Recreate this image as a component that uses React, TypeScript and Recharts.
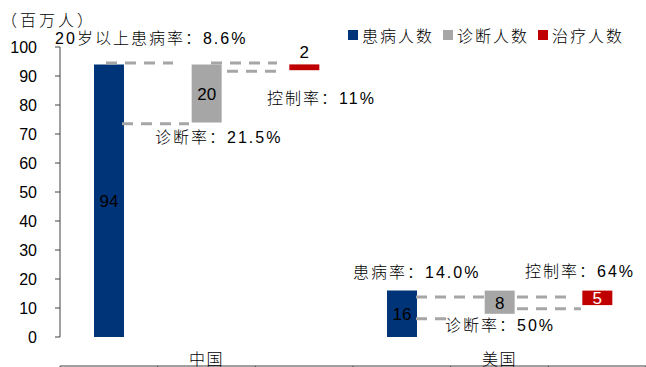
import React from 'react';
import { BarChart, Bar, XAxis, YAxis, ReferenceLine, ReferenceDot, LabelList } from 'recharts';

// ---- data ----
const categories = ['中国', '美国'];
const patients = [94, 16];
const diagnosedBase = [74, 8];
const diagnosed = [20, 8];
const treatedBase = [92, 11];
const treated = [2, 5];
const yTicks = [0, 10, 20, 30, 40, 50, 60, 70, 80, 90, 100];
const seriesNames = ['患病人数', '诊断人数', '治疗人数'];
const seriesColors = ['#003478', '#A6A6A6', '#C00000'];
const unitLabel = '（百万人）';

// annotations in data space of the frame axis (x: slot units 0..6, y: value)
const annotationTexts = ['20岁以上患病率：8.6%', '控制率：11%', '诊断率：21.5%', '患病率：14.0%', '控制率：64%', '诊断率：50%'];
const annotationX = [-0.05, 2.12, 0.973, 3.0, 4.761, 3.942];
const annotationY = [102.9, 82.2, 68.7, 22.2, 22.5, 3.9];

// dashed connectors
const connX1 = [0.471, 1.546, 1.71, 0.635, 3.645, 4.679, 4.679, 3.645];
const connX2 = [1.157, 2.222, 2.212, 1.321, 4.341, 5.263, 5.334, 3.962];
const connY = [94.5, 94.5, 91.6, 73.5, 13.8, 13.8, 9.75, 6.3];

// ---- table ----
const table: any[] = [];
categories.forEach((c, i) => {
  table.push({ key: c + '-a', label: '', base: 0, patients: patients[i] });
  table.push({ key: c + '-b', label: c, base: diagnosedBase[i], diagnosed: diagnosed[i] });
  table.push({ key: c + '-c', label: '', base: treatedBase[i], treated: treated[i] });
});
table.forEach((row, i) => { row.pos = i + 0.5; });
const slotCount = table.length;
const frameTicks = Array.from({ length: slotCount + 1 }, (_, i) => i);

const FONT = '"Liberation Sans", Arial, "Noto Sans CJK SC", sans-serif';
const AXIS = '#404040';

const makeLabel = (white: boolean) => (props: any) => {
  const { x, y, width, height, value } = props;
  if (value === undefined || value === null) return null;
  const small = height < 10;
  const cx = x + width / 2;
  const cy = small ? y - 12 : y + height / 2 + 1;
  return (
    <text x={cx} y={cy} textAnchor="middle" dominantBaseline="central" fontSize={17} fill={white && !small ? '#fff' : '#000'} fontFamily={FONT}>
      {value}
    </text>
  );
};

const annLabel = (text: string) => (props: any) => {
  const vb = props.viewBox || {};
  const x = (vb.x ?? 0) + (vb.width ?? 0) / 2;
  const y = (vb.y ?? 0) + (vb.height ?? 0) / 2;
  return (
    <text x={x} y={y} textAnchor="start" dominantBaseline="central" fontSize={16} letterSpacing={2} fill="#000" fontFamily={FONT} fontWeight={300}>
      {text}
    </text>
  );
};

export default function App() {
  return (
    <div style={{ position: 'absolute', left: 0, top: 0, width: 646, height: 367, background: '#fff', overflow: 'hidden' }}>
      <BarChart width={646} height={367} data={table} margin={{ top: 47, right: 0, bottom: 0, left: 0 }}>
        <XAxis
          xAxisId="frame"
          dataKey="pos"
          type="number"
          domain={[0, slotCount]}
          ticks={frameTicks}
          interval={0}
          allowDataOverflow
          height={1}
          tickSize={6}
          tickFormatter={() => ''}
          axisLine={{ stroke: AXIS }}
          tickLine={{ stroke: AXIS }}
        />
        <XAxis
          xAxisId="cat"
          dataKey="key"
          height={29}
          interval={0}
          axisLine={false}
          tickLine={false}
          tickMargin={11}
          tickFormatter={(_v: any, i: number) => table[i]?.label ?? ''}
          tick={{ fontSize: 16, fill: '#000', fontFamily: FONT, letterSpacing: 1.5, fontWeight: 300 }}
        />
        <YAxis
          domain={[0, 100]}
          ticks={yTicks}
          interval={0}
          width={60}
          tickSize={5}
          tickMargin={18}
          axisLine={{ stroke: AXIS }}
          tickLine={{ stroke: AXIS }}
          tick={{ fontSize: 16, fill: '#000', fontFamily: FONT }}
        />
        <Bar xAxisId="cat" dataKey="base" stackId="s" fill="transparent" barSize={30} isAnimationActive={false} />
        <Bar xAxisId="cat" dataKey="patients" stackId="s" fill={seriesColors[0]} barSize={30} isAnimationActive={false}>
          <LabelList dataKey="patients" content={makeLabel(false)} />
        </Bar>
        <Bar xAxisId="cat" dataKey="diagnosed" stackId="s" fill={seriesColors[1]} barSize={30} isAnimationActive={false}>
          <LabelList dataKey="diagnosed" content={makeLabel(false)} />
        </Bar>
        <Bar xAxisId="cat" dataKey="treated" stackId="s" fill={seriesColors[2]} barSize={30} isAnimationActive={false}>
          <LabelList dataKey="treated" content={makeLabel(true)} />
        </Bar>
        {connY.map((y, i) => (
          <ReferenceLine
            key={'c' + i}
            xAxisId="frame"
            ifOverflow="visible"
            segment={[{ x: connX1[i], y }, { x: connX2[i], y }]}
            stroke="#A6A6A6"
            strokeWidth={3}
            strokeDasharray="11 8"
          />
        ))}
        {annotationTexts.map((t, i) => (
          <ReferenceDot
            key={'a' + i}
            xAxisId="frame"
            x={annotationX[i]}
            y={annotationY[i]}
            r={1}
            fill="none"
            stroke="none"
            ifOverflow="visible"
            label={{ content: annLabel(t) }}
          />
        ))}
      </BarChart>
      <div style={{ position: 'absolute', left: 1, top: 11, fontSize: 16, letterSpacing: 3, fontFamily: FONT, fontWeight: 300, color: '#000', lineHeight: '20px' }}>
        {unitLabel}
      </div>
      <div style={{ position: 'absolute', left: 348, top: 25, display: 'flex', alignItems: 'center', height: 20, fontFamily: FONT, fontWeight: 300, fontSize: 16, color: '#000' }}>
        {seriesNames.map((n, i) => (
          <div key={n} style={{ display: 'flex', alignItems: 'center', marginRight: i < seriesNames.length - 1 ? 9 : 0 }}>
            <span style={{ display: 'inline-block', width: 10, height: 10, background: seriesColors[i], marginRight: 4 }} />
            <span style={{ letterSpacing: 2 }}>{n}</span>
          </div>
        ))}
      </div>
    </div>
  );
}
